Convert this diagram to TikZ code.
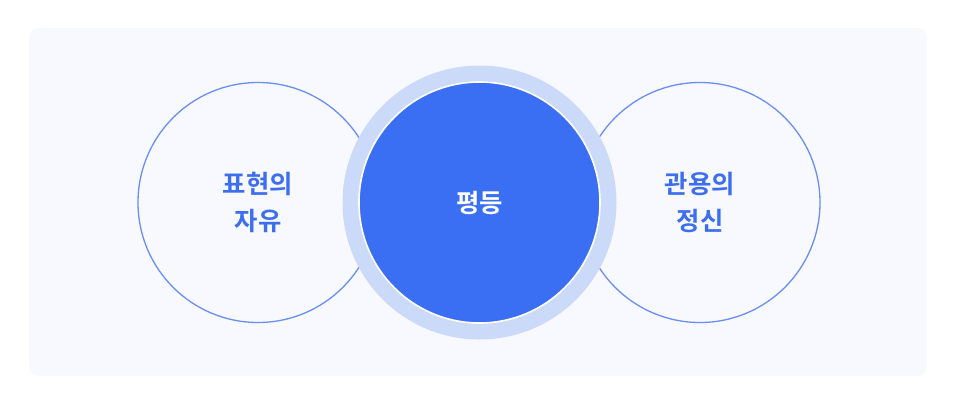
\documentclass[tikz,border=0pt]{standalone}
\usepackage{fontspec}
\newfontfamily\kr{Noto Sans CJK KR}[BoldFont={* Bold}]
\definecolor{pagebg}{HTML}{FFFFFF}
\definecolor{panelbg}{HTML}{F7F9FE}
\definecolor{ringline}{HTML}{6A8FF4}
\definecolor{labelblue}{HTML}{3D6EEF}
\definecolor{corefill}{HTML}{3A6FF3}
\definecolor{halofill}{HTML}{CCDAF9}
\tikzset{
  sidecircle/.style={circle, draw=ringline, line width=1.3bp, minimum size=240bp, inner sep=0pt,
    align=center, text=labelblue, font=\kr\bfseries\fontsize{25.5}{36.5}\selectfont},
  halo/.style={circle, fill=halofill, minimum size=274bp, inner sep=0pt},
  core/.style={circle, fill=corefill, draw=white, line width=1.6bp, minimum size=241bp, inner sep=0pt,
    align=center, text=white, font=\kr\bfseries\fontsize{25.5}{36.5}\selectfont},
}
\begin{document}
\begin{tikzpicture}[x=1bp,y=-1bp]
  \fill[pagebg] (0,0) rectangle (966,409);
  \useasboundingbox (0,0) rectangle (966,409);
  \fill[panelbg, rounded corners=10bp] (29,28) rectangle (927,376);
  \node[sidecircle] (freedom) at (258,202.5) {표현의\\자유};
  \node[sidecircle] (tolerance) at (700,202.5) {관용의\\정신};
  \node[halo] (halo) at (479.5,202.5) {};
  \node[core] (equality) at (halo.center) {평등};
\end{tikzpicture}
\end{document}
